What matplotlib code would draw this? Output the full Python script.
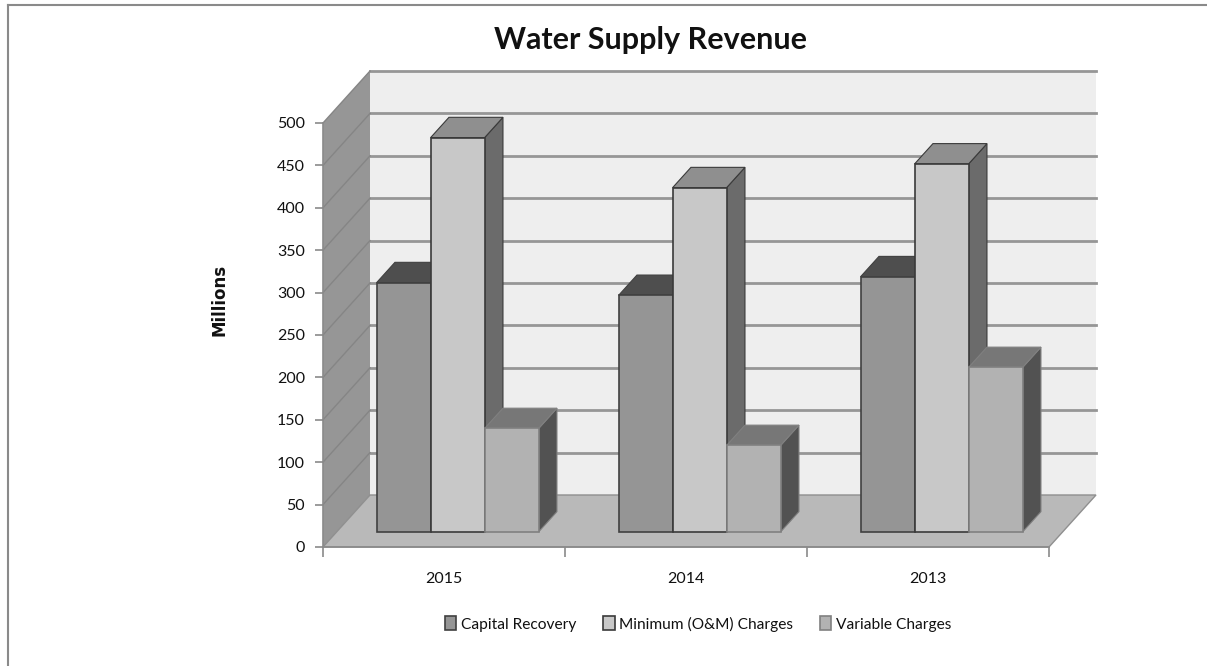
import matplotlib
matplotlib.use("Agg")
import matplotlib.pyplot as plt
from matplotlib.patches import Polygon, Patch
from matplotlib.lines import Line2D

years = ["2015", "2014", "2013"]
series_names = ["Capital Recovery", "Minimum (O&M) Charges", "Variable Charges"]
capital = [294, 279, 301]
minimum = [465, 406, 434]
variable = [122, 102, 194]
y_ticks = list(range(0, 501, 50))

W, H = 1207, 666
L, R, T, B = 323, 1049, 123, 547
plt.rcParams["font.family"] = ["Lato", "DejaVu Sans"]

# 3d look: depth shift in data units
DX = 47 / 242
DY = 52 / 0.848
BAR_W = 54 / 242
GAP = (1 - 3 * BAR_W) / 2
D0, D1 = 0.29, 0.68

front_cols = ["#959595", "#c8c8c8", "#b2b2b2"]
top_cols = ["#4e4e4e", "#8f8f8f", "#777777"]
side_cols = ["#4a4a4a", "#6b6b6b", "#525252"]
edge_cols = ["#404040", "#3a3a3a", "#808080"]


def pt(x, v, d):
    return (x + d * DX, v + d * DY)


fig = plt.figure(figsize=(W / 100, H / 100), dpi=100)
ax = fig.add_axes([L / W, 1 - B / H, (R - L) / W, (B - T) / H])
ax.set_xlim(0, 3)
ax.set_ylim(0, 500)
ax.patch.set_visible(False)
for s in ["top", "right"]:
    ax.spines[s].set_visible(False)
for s in ["left", "bottom"]:
    ax.spines[s].set_color("#8a8a8a")
    ax.spines[s].set_linewidth(1.2)

# walls and floor
ax.add_patch(Polygon([pt(0, 0, 1), pt(3, 0, 1), pt(3, 500, 1), pt(0, 500, 1)],
                     fc="#eeeeee", ec="none", clip_on=False, zorder=1))
ax.add_patch(Polygon([pt(0, 0, 0), pt(0, 0, 1), pt(0, 500, 1), pt(0, 500, 0)],
                     fc="#969696", ec="none", clip_on=False, zorder=1))
ax.add_patch(Polygon([pt(0, 0, 0), pt(3, 0, 0), pt(3, 0, 1), pt(0, 0, 1)],
                     fc="#b9b9b9", ec="#8f8f8f", lw=1, clip_on=False, zorder=1))

for v in y_ticks[1:]:
    x0, y0 = pt(0, v, 1)
    x1, y1 = pt(3, v, 1)
    ax.plot([x0, x1], [y0, y1], color="#969696", lw=2, clip_on=False, zorder=2)
    xa, ya = pt(0, v, 0)
    ax.plot([xa, x0], [ya, y0], color="#858585", lw=1, clip_on=False, zorder=2)

# bars
values = [capital, minimum, variable]
for i in range(len(years)):
    for j, vals in enumerate(values):
        x0 = i + GAP + j * BAR_W
        x1 = x0 + BAR_W
        v = vals[i]
        ec = edge_cols[j]
        ax.add_patch(Polygon([pt(x1, 0, D0), pt(x1, 0, D1), pt(x1, v, D1), pt(x1, v, D0)],
                             fc=side_cols[j], ec=ec, lw=0.8, clip_on=False, zorder=3))
        ax.add_patch(Polygon([pt(x0, v, D0), pt(x1, v, D0), pt(x1, v, D1), pt(x0, v, D1)],
                             fc=top_cols[j], ec=ec, lw=0.8, clip_on=False, zorder=3))
        ax.add_patch(Polygon([pt(x0, 0, D0), pt(x1, 0, D0), pt(x1, v, D0), pt(x0, v, D0)],
                             fc=front_cols[j], ec=ec, lw=1.2, clip_on=False, zorder=3))

ax.set_yticks(y_ticks)
ax.set_xticks([0, 1, 2, 3])
ax.set_xticklabels([])
ax.set_xticks([0.5, 1.5, 2.5], minor=True)
ax.set_xticklabels(years, minor=True, fontsize=11.5, color="#111111")
ax.tick_params(axis="x", which="major", length=7, width=1.2, color="#8a8a8a")
ax.tick_params(axis="x", which="minor", length=0, pad=18)
ax.tick_params(axis="y", length=6, width=1.2, color="#8a8a8a", labelsize=11.5,
               labelcolor="#111111", pad=7)

fig.text(651 / W, 1 - 40 / H, "Water Supply Revenue", ha="center", va="center",
         fontsize=22, fontweight="bold", color="#111111")
fig.text(219 / W, 1 - 300 / H, "Millions", rotation=90, ha="center", va="center",
         fontsize=12, fontweight="bold", family=["DejaVu Sans"], color="#111111")

handles = [Patch(fc=front_cols[k], ec=edge_cols[k], lw=1.2) for k in range(3)]
fig.legend(handles, series_names, loc="center", bbox_to_anchor=(698 / W, 1 - 624 / H),
           ncol=3, frameon=False, fontsize=11.2, handlelength=0.75, handleheight=1.0,
           handletextpad=0.3, columnspacing=1.7, labelcolor="#111111")

# chart frame, only top and left visible
fig.add_artist(Line2D([8 / W, 8 / W], [0, 1 - 5 / H], color="#8a8a8a", lw=1.5))
fig.add_artist(Line2D([8 / W, 1], [1 - 5 / H, 1 - 5 / H], color="#8a8a8a", lw=1.5))

fig.savefig("out.png", dpi=100)
